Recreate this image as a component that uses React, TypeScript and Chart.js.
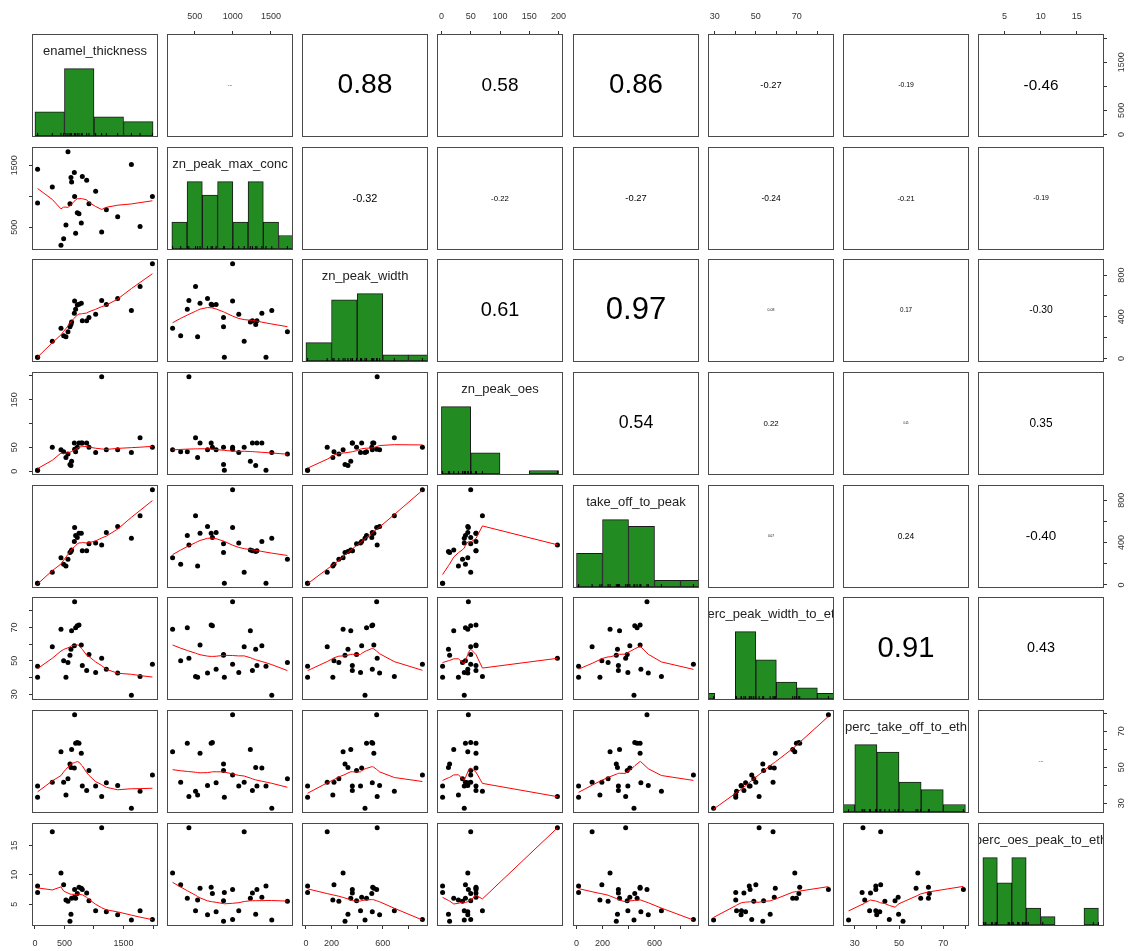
import React, { useEffect, useRef } from "react";
import { Chart, registerables } from "chart.js";

Chart.register(...registerables);

// ---------------- data ----------------
const variableNames = [
  "enamel_thickness",
  "zn_peak_max_conc",
  "zn_peak_width",
  "zn_peak_oes",
  "take_off_to_peak",
  "perc_peak_width_to_eth",
  "perc_take_off_to_eth",
  "perc_oes_peak_to_eth",
];

const enamelThickness = [45, 45, 294, 441, 486, 525, 559, 593, 610, 621, 667, 672, 689, 717, 746, 785, 802, 876, 915, 1028, 1130, 1209, 1401, 1633, 1780, 1989];
const znPeakMaxConc = [1435, 889, 1149, 210, 316, 538, 1716, 878, 1300, 1230, 1381, 997, 403, 732, 716, 570, 1316, 1257, 878, 1078, 424, 781, 668, 1511, 511, 997];
const znPeakWidth = [13, 13, 166, 290, 219, 210, 257, 305, 328, 350, 435, 552, 473, 514, 521, 530, 362, 362, 395, 426, 556, 518, 575, 461, 690, 909];
const znPeakOes = [2, 2, 50, 45, 41, 29, 36, 14, 12, 21, 59, 46, 41, 50, 59, 59, 59, 59, 50, 39, 198, 45, 45, 39, 70, 50];
const takeOffToPeak = [16, 16, 120, 258, 195, 180, 243, 306, 315, 331, 410, 542, 466, 448, 489, 489, 322, 322, 390, 395, 378, 495, 552, 442, 653, 899];
const percPeakWidthToEth = [46.8, 40.2, 58.4, 69, 50, 40.2, 49, 53.4, 57, 68, 59, 85.4, 69.8, 71, 71.4, 59.5, 47.2, 44.2, 53.8, 43, 51.6, 45, 42.8, 29.4, 40.6, 48];
const percTakeOffToEth = [39.5, 33.3, 41.7, 58.5, 41.7, 34.5, 43.6, 51.8, 49.8, 59.8, 49.6, 79.1, 63.3, 63.7, 63.3, 57.7, 39.5, 37.1, 48.2, 39.5, 33.7, 41.3, 39.9, 27.2, 36.7, 45.6];
const percOesPeakToEth = [8.1, 7.0, 17.3, 10.3, 8.3, 5.7, 5.5, 2.1, 3.3, 6.0, 6.2, 7.5, 6.0, 6.8, 7.9, 7.7, 7.5, 6.9, 5.6, 3.9, 18.0, 3.7, 3.2, 2.3, 3.9, 2.4];

// histogram breaks
const enamelBreaks = [0, 500, 1000, 1500, 2000];
const maxConcBreaks = [200, 400, 600, 800, 1000, 1200, 1400, 1600, 1800];
const widthBreaks = [0, 200, 400, 600, 800, 1000];
const oesBreaks = [0, 50, 100, 150, 200];
const takeOffBreaks = [0, 200, 400, 600, 800, 1000];
const percWidthBreaks = [20, 30, 40, 50, 60, 70, 80, 90];
const percTakeOffBreaks = [20, 30, 40, 50, 60, 70, 80];
const percOesBreaks = [2, 4, 6, 8, 10, 12, 14, 16, 18];

// axis ticks
const enamelTicks = [0, 500, 1000, 1500, 2000];
const maxConcTicks = [500, 1000, 1500];
const widthTicks = [0, 200, 400, 600, 800];
const oesTicks = [0, 50, 100, 150, 200];
const takeOffTicks = [0, 200, 400, 600, 800];
const percWidthTicks = [30, 40, 50, 60, 70, 80];
const percTakeOffTicks = [30, 40, 50, 60, 70, 80];
const percOesTicks = [5, 10, 15];

// labelled ticks on horizontal (top/bottom) axes
const enamelXLabels = [0, 500, 1500];
const maxConcXLabels = [500, 1000, 1500];
const widthXLabels = [0, 200, 600];
const oesXLabels = [0, 50, 100, 150, 200];
const takeOffXLabels = [0, 200, 600];
const percWidthXLabels = [30, 50, 70];
const percTakeOffXLabels = [30, 50, 70];
const percOesXLabels = [5, 10, 15];

// labelled ticks on vertical (left/right) axes
const enamelYLabels = [0, 500, 1500];
const maxConcYLabels = [500, 1500];
const widthYLabels = [0, 400, 800];
const oesYLabels = [0, 50, 150];
const takeOffYLabels = [0, 400, 800];
const percWidthYLabels = [30, 50, 70];
const percTakeOffYLabels = [30, 50, 70];
const percOesYLabels = [5, 10, 15];

// correlation labels, upper triangle by row
const corrRow1 = ["0.04", "0.88", "0.58", "0.86", "-0.27", "-0.19", "-0.46"];
const corrRow2 = ["-0.32", "-0.22", "-0.27", "-0.24", "-0.21", "-0.19"];
const corrRow3 = ["0.61", "0.97", "0.08", "0.17", "-0.30"];
const corrRow4 = ["0.54", "0.22", "0.05", "0.35"];
const corrRow5 = ["0.07", "0.24", "-0.40"];
const corrRow6 = ["0.91", "0.43"];
const corrRow7 = ["0.04"];

const variables = [enamelThickness, znPeakMaxConc, znPeakWidth, znPeakOes, takeOffToPeak, percPeakWidthToEth, percTakeOffToEth, percOesPeakToEth];
const histBreaks = [enamelBreaks, maxConcBreaks, widthBreaks, oesBreaks, takeOffBreaks, percWidthBreaks, percTakeOffBreaks, percOesBreaks];
const tickValues = [enamelTicks, maxConcTicks, widthTicks, oesTicks, takeOffTicks, percWidthTicks, percTakeOffTicks, percOesTicks];
const xAxisLabels = [enamelXLabels, maxConcXLabels, widthXLabels, oesXLabels, takeOffXLabels, percWidthXLabels, percTakeOffXLabels, percOesXLabels];
const yAxisLabels = [enamelYLabels, maxConcYLabels, widthYLabels, oesYLabels, takeOffYLabels, percWidthYLabels, percTakeOffYLabels, percOesYLabels];
const corrRows = [corrRow1, corrRow2, corrRow3, corrRow4, corrRow5, corrRow6, corrRow7];

// ---------------- layout / style ----------------
const FONT = "'Liberation Sans', Arial, Helvetica, sans-serif";
const N = 8;
const M = 32;
const PW = 124;
const PH = 101;
const TL = 4;
const TICK_FONT = 9;
const colLeft = (c: number) => Math.round(32.7 + c * 135.23);
const rowTop = (r: number) => Math.round(35 + r * 112.65);

let measureCtx: CanvasRenderingContext2D | null = null;
function textWidth(s: string, size: number) {
  if (!measureCtx) measureCtx = document.createElement("canvas").getContext("2d");
  measureCtx!.font = `${size}px ${FONT}`;
  return measureCtx!.measureText(s).width;
}

function usr(v: number[]) {
  const lo = Math.min(...v);
  const hi = Math.max(...v);
  const d = (hi - lo) * 0.04;
  return [lo - d, hi + d];
}

function histCounts(v: number[], breaks: number[]) {
  const counts = new Array(breaks.length - 1).fill(0);
  v.forEach((val) => {
    for (let k = 0; k < breaks.length - 1; k++) {
      const a = breaks[k];
      const b = breaks[k + 1];
      if ((val > a || (k === 0 && val >= a)) && val <= b) {
        counts[k]++;
        break;
      }
    }
  });
  return counts;
}

// R's lowess (clowess), f = 2/3, iter = 3
function lowess(xIn: number[], yIn: number[], f = 2 / 3, nsteps = 3) {
  const n = xIn.length;
  const order = xIn.map((_, i) => i).sort((a, b) => xIn[a] - xIn[b] || a - b);
  const x = [0, ...order.map((i) => xIn[i])];
  const y = [0, ...order.map((i) => yIn[i])];
  const ys = new Array(n + 1).fill(0);
  const rw = new Array(n + 1).fill(1);
  const res = new Array(n + 1).fill(0);
  const w = new Array(n + 1).fill(0);
  const delta = 0.01 * (x[n] - x[1]);
  const ns = Math.max(2, Math.min(n, Math.floor(f * n + 1e-7)));

  const lowest = (xs: number, nleft: number, nright: number, userw: boolean): [boolean, number] => {
    const range = x[n] - x[1];
    const h = Math.max(xs - x[nleft], x[nright] - xs);
    const h9 = 0.999 * h;
    const h1 = 0.001 * h;
    let a = 0;
    let j = nleft;
    while (j <= n) {
      w[j] = 0;
      const r = Math.abs(x[j] - xs);
      if (r <= h9) {
        w[j] = r <= h1 ? 1 : Math.pow(1 - Math.pow(r / h, 3), 3);
        if (userw) w[j] *= rw[j];
        a += w[j];
      } else if (x[j] > xs) break;
      j++;
    }
    const nrt = j - 1;
    if (a <= 0) return [false, 0];
    for (j = nleft; j <= nrt; j++) w[j] /= a;
    if (h > 0) {
      a = 0;
      for (j = nleft; j <= nrt; j++) a += w[j] * x[j];
      let b = xs - a;
      let c = 0;
      for (j = nleft; j <= nrt; j++) c += w[j] * (x[j] - a) * (x[j] - a);
      if (Math.sqrt(c) > 0.001 * range) {
        b /= c;
        for (j = nleft; j <= nrt; j++) w[j] *= b * (x[j] - a) + 1;
      }
    }
    let out = 0;
    for (j = nleft; j <= nrt; j++) out += w[j] * y[j];
    return [true, out];
  };

  let iter = 1;
  while (iter <= nsteps + 1) {
    let nleft = 1;
    let nright = ns;
    let last = 0;
    let i = 1;
    for (;;) {
      if (nright < n) {
        const d1 = x[i] - x[nleft];
        const d2 = x[nright + 1] - x[i];
        if (d1 > d2) {
          nleft++;
          nright++;
          continue;
        }
      }
      const [ok, val] = lowest(x[i], nleft, nright, iter > 1);
      ys[i] = ok ? val : y[i];
      if (last < i - 1) {
        const denom = x[i] - x[last];
        for (let j = last + 1; j < i; j++) {
          const alpha = (x[j] - x[last]) / denom;
          ys[j] = alpha * ys[i] + (1 - alpha) * ys[last];
        }
      }
      last = i;
      const cut = x[last] + delta;
      for (i = last + 1; i <= n; i++) {
        if (x[i] > cut) break;
        if (x[i] === x[last]) {
          ys[i] = ys[last];
          last = i;
        }
      }
      i = Math.max(last + 1, i - 1);
      if (last >= n) break;
    }
    for (let k = 1; k <= n; k++) res[k] = y[k] - ys[k];
    let sc = 0;
    for (let k = 1; k <= n; k++) sc += Math.abs(res[k]);
    sc /= n;
    if (iter > nsteps) break;
    const sorted = res.slice(1).map((v) => Math.abs(v)).sort((a, b) => a - b);
    const m1 = Math.floor(n / 2);
    let cmad;
    if (n % 2 === 0) {
      const m2 = n - m1 - 1;
      cmad = 3 * (sorted[m1] + sorted[m2]);
    } else cmad = 6 * sorted[m1];
    if (cmad < 1e-7 * sc) break;
    const c9 = 0.999 * cmad;
    const c1 = 0.001 * cmad;
    for (let k = 1; k <= n; k++) {
      const r = Math.abs(res[k]);
      rw[k] = r <= c1 ? 1 : r <= c9 ? Math.pow(1 - Math.pow(r / cmad, 2), 2) : 0;
    }
    iter++;
  }
  const outPts = [];
  for (let k = 1; k <= n; k++) outPts.push({ x: x[k], y: ys[k] });
  return outPts;
}

function buildConfig(r: number, c: number) {
  const showTop = r === 0 && c % 2 === 1;
  const showBottom = r === N - 1 && c % 2 === 0;
  const showLeft = c === 0 && r % 2 === 1;
  const showRight = c === N - 1 && r % 2 === 0;
  const isDiag = r === c;
  const isUpper = r < c;
  const showX = showTop || showBottom;
  const showY = showLeft || showRight;

  const [xmin, xmax] = usr(variables[c]);
  const xTicks = tickValues[c].filter((t) => t >= xmin && t <= xmax);

  const xScale: any = {
    type: "linear",
    position: showTop ? "top" : "bottom",
    display: showX,
    min: xmin,
    max: xmax,
    offset: false,
    grid: { display: true, drawOnChartArea: false, drawTicks: true, tickLength: TL, color: "#333", lineWidth: 1 },
    border: { display: false },
    ticks: {
      autoSkip: false,
      minRotation: 0,
      maxRotation: 0,
      padding: 9,
      color: "#333",
      font: { family: FONT, size: TICK_FONT },
      callback: (val: number) => (xAxisLabels[c].includes(val) ? String(val) : ""),
    },
    afterBuildTicks: (s: any) => {
      s.ticks = xTicks.map((value) => ({ value }));
    },
    afterFit: (s: any) => {
      s.height = showX ? M : 0;
    },
  };

  let yScale: any;
  const datasets: any[] = [];

  if (isDiag) {
    const breaks = histBreaks[c];
    const counts = histCounts(variables[c], breaks);
    const maxC = Math.max(...counts);
    yScale = {
      type: "linear",
      display: false,
      min: 0,
      max: maxC * 1.5,
      afterFit: (s: any) => {
        s.width = 0;
      },
    };
    datasets.push({
      type: "scatter",
      data: variables[c].map((v) => ({ x: v, y: 0 })),
      pointStyle: "line",
      pointRotation: 90,
      pointRadius: 3,
      pointHoverRadius: 3,
      pointBorderColor: "#000",
      pointBorderWidth: 1,
      clip: 0,
    });
    datasets.push({
      type: "bar",
      data: counts.map((n, k) => ({ x: (breaks[k] + breaks[k + 1]) / 2, y: n })),
      backgroundColor: "#228B22",
      borderColor: "#1a1a1a",
      borderWidth: 1,
      borderSkipped: false,
      categoryPercentage: 1,
      barPercentage: 1,
      clip: 0,
    });
  } else {
    const [ymin, ymax] = usr(variables[r]);
    const yTicks = tickValues[r].filter((t) => t >= ymin && t <= ymax);
    const labels = yAxisLabels[r];
    const widest = Math.max(...labels.map((l) => textWidth(String(l), TICK_FONT)));
    yScale = {
      type: "linear",
      position: showRight ? "right" : "left",
      display: showY,
      min: ymin,
      max: ymax,
      grid: { display: true, drawOnChartArea: false, drawTicks: true, tickLength: TL, color: "#333", lineWidth: 1 },
      border: { display: false },
      ticks: {
        autoSkip: false,
        minRotation: 90,
        maxRotation: 90,
        crossAlign: "center",
        padding: Math.max(0, 18.5 - TL - widest / 2),
        color: "#333",
        font: { family: FONT, size: TICK_FONT },
        callback: (val: number) => (labels.includes(val) ? String(val) : ""),
      },
      afterBuildTicks: (s: any) => {
        s.ticks = yTicks.map((value) => ({ value }));
      },
      afterFit: (s: any) => {
        s.width = showY ? M : 0;
      },
    };
    if (!isUpper) {
      const xs = variables[c];
      const ysv = variables[r];
      datasets.push({
        type: "line",
        data: lowess(xs, ysv),
        borderColor: "#ff0000",
        borderWidth: 1,
        pointRadius: 0,
        pointHoverRadius: 0,
        tension: 0,
        fill: false,
      });
      datasets.push({
        type: "scatter",
        data: xs.map((v, k) => ({ x: v, y: ysv[k] })),
        pointRadius: 2.5,
        pointHoverRadius: 2.5,
        pointBackgroundColor: "#000",
        pointBorderColor: "#000",
        pointBorderWidth: 0,
      });
    }
  }

  const decor = {
    id: "panelDecor",
    afterDraw(chart: any) {
      const a = chart.chartArea;
      const ctx = chart.ctx;
      const cx = (a.left + a.right) / 2;
      ctx.save();
      ctx.beginPath();
      ctx.rect(a.left, a.top, a.right - a.left, a.bottom - a.top);
      ctx.clip();
      ctx.textAlign = "center";
      ctx.textBaseline = "middle";
      if (isDiag) {
        ctx.font = `13px ${FONT}`;
        ctx.fillStyle = "#222";
        ctx.fillText(variableNames[c], cx, a.top + 16);
      }
      if (isUpper) {
        const txt = corrRows[r][c - r - 1];
        const size = 31 * Math.abs(parseFloat(txt)) + 1;
        ctx.font = `${size}px ${FONT}`;
        ctx.fillStyle = "#000";
        ctx.fillText(txt, cx, (a.top + a.bottom) / 2);
      }
      ctx.restore();
      ctx.save();
      ctx.strokeStyle = "#4a4a4a";
      ctx.lineWidth = 1;
      ctx.strokeRect(a.left - 0.5, a.top - 0.5, a.right - a.left + 1, a.bottom - a.top + 1);
      ctx.restore();
    },
  };

  return {
    type: "scatter",
    data: { datasets },
    options: {
      responsive: false,
      animation: false,
      devicePixelRatio: 1,
      events: [],
      layout: {
        autoPadding: false,
        padding: {
          left: showLeft ? 0 : M,
          right: showRight ? 0 : M,
          top: showTop ? 0 : M,
          bottom: showBottom ? 0 : M,
        },
      },
      plugins: { legend: { display: false }, tooltip: { enabled: false }, title: { display: false } },
      scales: { x: xScale, y: yScale },
    },
    plugins: [decor],
  };
}

function Panel({ r, c }: { r: number; c: number }) {
  const ref = useRef<HTMLCanvasElement>(null);
  useEffect(() => {
    const chart = new Chart(ref.current as HTMLCanvasElement, buildConfig(r, c) as any);
    return () => chart.destroy();
  }, [r, c]);
  const w = PW + 2 * M;
  const h = PH + 2 * M;
  return (
    <canvas
      ref={ref}
      width={w}
      height={h}
      style={{ position: "absolute", left: colLeft(c) - M, top: rowTop(r) - M, width: w, height: h }}
    />
  );
}

export default function App() {
  const panels = [];
  for (let r = 0; r < N; r++) {
    for (let c = 0; c < N; c++) {
      panels.push(<Panel key={`${r}-${c}`} r={r} c={c} />);
    }
  }
  return (
    <div style={{ position: "absolute", left: 0, top: 0, width: 1131, height: 951, background: "#fff", overflow: "hidden" }}>
      {panels}
    </div>
  );
}
